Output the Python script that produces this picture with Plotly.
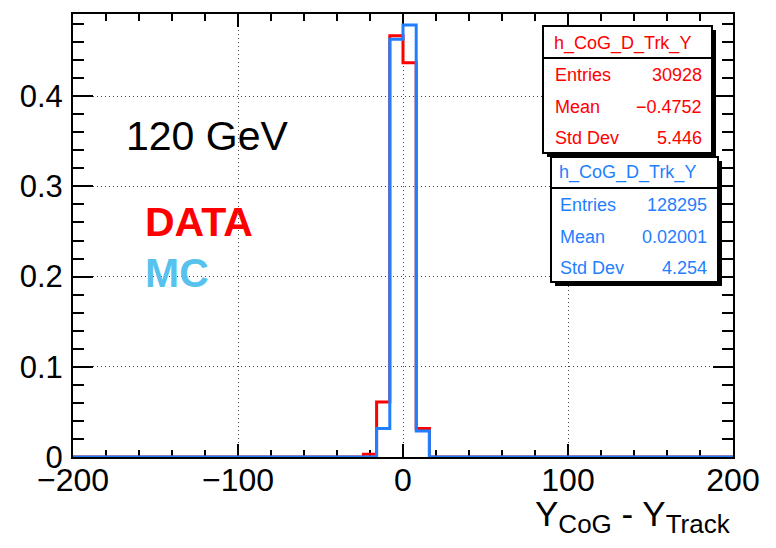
import plotly.graph_objects as go

# Histogram binning (bin width 8 over [-200, 200])
X_MIN, X_MAX = -200, 200
BIN_W = 8

# DATA (red): lower bin edges and normalised contents of the non-empty bins
data_bin_lo = [-24, -16, -8, 0, 8]
data_vals = [0.003, 0.061, 0.467, 0.437, 0.0315]

# MC (blue): lower bin edges and normalised contents of the non-empty bins
mc_bin_lo = [-16, -8, 0, 8]
mc_vals = [0.0315, 0.463, 0.479, 0.0288]

# Stats box contents
data_stats = {"name": "h_CoG_D_Trk_Y", "Entries": "30928", "Mean": "\u22120.4752", "Std Dev": "5.446"}
mc_stats = {"name": "h_CoG_D_Trk_Y", "Entries": "128295", "Mean": "0.02001", "Std Dev": "4.254"}

RED = "#ff0000"
BLUE = "#1f7fff"
SKY = "#58c2ee"
FONT = "Liberation Sans, Arial, Helvetica, sans-serif"

W, H = 776, 548
L, R, T, B = 73, 733, 14, 457


def px(x):
    return (x - L) / (R - L)


def py(y):
    return (B - y) / (B - T)


def step_xy(lo, vals):
    xs = [X_MIN] + list(lo) + [lo[-1] + BIN_W, X_MAX]
    ys = [0] + list(vals) + [0, 0]
    return xs, ys


fig = go.Figure()
dx, dy = step_xy(data_bin_lo, data_vals)
mx, my = step_xy(mc_bin_lo, mc_vals)
fig.add_trace(go.Scatter(x=dx, y=dy, mode="lines", line=dict(color=RED, width=3, shape="hv"),
                         showlegend=False, hoverinfo="skip"))
fig.add_trace(go.Scatter(x=mx, y=my, mode="lines", line=dict(color=BLUE, width=3, shape="hv"),
                         showlegend=False, hoverinfo="skip"))

axis_common = dict(
    showline=True, linecolor="black", linewidth=2, mirror="ticks",
    ticks="inside", tickcolor="black", tickwidth=2,
    showgrid=True, gridcolor="#444444", gridwidth=1, griddash="1px,3px",
    zeroline=False, layer="below traces",
)

fig.update_xaxes(range=[X_MIN, X_MAX], dtick=100, ticklen=13,
                 minor=dict(dtick=20, ticklen=7, ticks="inside", tickcolor="black", tickwidth=2, showgrid=False),
                 ticklabelstandoff=-6, tickfont=dict(family=FONT, size=32, color="black"), **axis_common)
fig.update_yaxes(range=[0, 0.4911], dtick=0.1, ticklen=20,
                 minor=dict(dtick=0.02, ticklen=11, ticks="inside", tickcolor="black", tickwidth=2, showgrid=False),
                 ticklabelstandoff=2, tickfont=dict(family=FONT, size=31, color="black"), **axis_common)

shapes = []
annotations = []


def stats_box(x0, y0, x1, y1, ydiv, color, stats, tx_left, tx_right, ytitle, yrows):
    sh = 4
    shapes.append(dict(type="rect", xref="paper", yref="paper",
                       x0=px(x0 + sh), x1=px(x1 + sh), y0=py(y1 + sh), y1=py(y0 + sh),
                       fillcolor="black", line=dict(width=0), layer="above"))
    shapes.append(dict(type="rect", xref="paper", yref="paper",
                       x0=px(x0), x1=px(x1), y0=py(y1), y1=py(y0),
                       fillcolor="white", line=dict(color="black", width=2), layer="above"))
    shapes.append(dict(type="line", xref="paper", yref="paper",
                       x0=px(x0), x1=px(x1), y0=py(ydiv), y1=py(ydiv),
                       line=dict(color="black", width=2), layer="above"))
    f = dict(family=FONT, size=18, color=color)
    annotations.append(dict(xref="paper", yref="paper", x=px(tx_left - 1), y=py(ytitle),
                            text=stats["name"], showarrow=False, xanchor="left", yanchor="middle", font=f))
    for key, yy in zip(["Entries", "Mean", "Std Dev"], yrows):
        annotations.append(dict(xref="paper", yref="paper", x=px(tx_left), y=py(yy), text=key,
                                showarrow=False, xanchor="left", yanchor="middle", font=f))
        annotations.append(dict(xref="paper", yref="paper", x=px(tx_right), y=py(yy), text=stats[key],
                                showarrow=False, xanchor="right", yanchor="middle", font=f))


stats_box(543, 26, 712, 153, 58, RED, data_stats, 553, 704, 43, [75, 107, 138])
stats_box(551, 157, 718, 282, 188, BLUE, mc_stats, 558, 709, 172, [205, 237, 268])

# Labels inside the frame
annotations.append(dict(xref="paper", yref="paper", x=px(124), y=py(136), text="120 GeV",
                        showarrow=False, xanchor="left", yanchor="middle",
                        font=dict(family=FONT, size=41, color="black")))
annotations.append(dict(xref="paper", yref="paper", x=px(143), y=py(222), text="<b>DATA</b>",
                        showarrow=False, xanchor="left", yanchor="middle",
                        font=dict(family=FONT, size=41, color=RED)))
annotations.append(dict(xref="paper", yref="paper", x=px(143), y=py(273), text="<b>MC</b>",
                        showarrow=False, xanchor="left", yanchor="middle",
                        font=dict(family=FONT, size=41, color=SKY)))

# X-axis title, right-aligned at the end of the axis
sub = "<sub><span style='font-size:26px'>{}</span></sub>"
annotations.append(dict(xref="paper", yref="paper", x=px(733), y=py(492),
                        text="Y" + sub.format("CoG") + " - Y" + sub.format("Track"),
                        showarrow=False, xanchor="right", yanchor="top",
                        font=dict(family=FONT, size=35, color="black")))

fig.update_layout(
    width=W, height=H,
    margin=dict(l=L, r=W - R, t=T, b=H - B),
    paper_bgcolor="white", plot_bgcolor="white",
    shapes=shapes, annotations=annotations,
)

fig.write_html("out.html")
